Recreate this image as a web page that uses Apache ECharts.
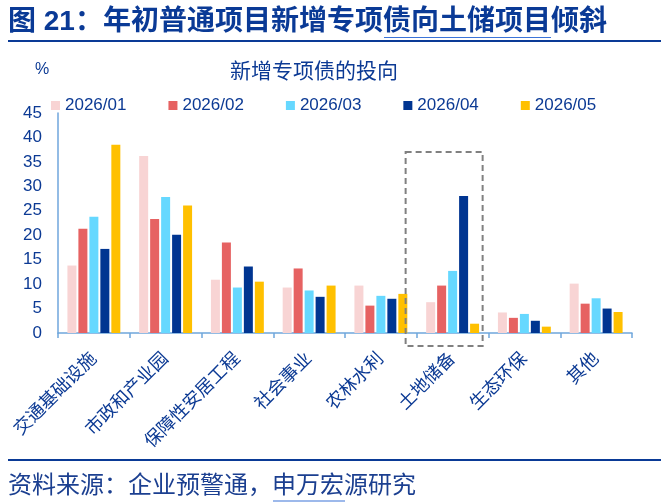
<!DOCTYPE html>
<html>
<head>
<meta charset="utf-8">
<title>新增专项债的投向</title>
<script src="https://cdn.jsdelivr.net/npm/echarts@6/dist/echarts.min.js"></script>
<style>
    html, body { margin: 0; padding: 0; background: #ffffff; }
    #main { width: 670px; height: 504px; }
</style>
</head>
<body>
<div id="main"></div>
<script>
// 类别
const categories = ['交通基础设施', '市政和产业园', '保障性安居工程', '社会事业', '农林水利', '土地储备', '生态环保', '其他'];
// 月份
const months = ['2026/01', '2026/02', '2026/03', '2026/04', '2026/05'];
// 各月占比 (%)
const jan = [13.8, 36.2, 10.9, 9.3, 9.7, 6.3, 4.2, 10.1];
const feb = [21.3, 23.3, 18.5, 13.2, 5.6, 9.7, 3.1, 6.0];
const mar = [23.8, 27.8, 9.3, 8.7, 7.6, 12.7, 3.9, 7.1];
const apr = [17.2, 20.1, 13.6, 7.4, 7.0, 28.0, 2.5, 5.0];
const may = [38.5, 26.1, 10.5, 9.7, 8.0, 1.9, 1.3, 4.3];
// y 轴刻度
const yMin = 0, yMax = 45, yStep = 5;

const colors = ['#F8D4D4', '#E66262', '#66D8FF', '#003591', '#FFC000'];
const textBlue = '#0C3A94';
const fontFamily = 'Liberation Sans, Noto Sans CJK SC, sans-serif';

let barChart = null; // chart 实例

function init() {
    barChart = echarts.init(document.getElementById('main'), null, { renderer: 'canvas' });
    setOption(barChart);
    drawBox(barChart);
}

function setOption(chart) {
    const seriesData = [jan, feb, mar, apr, may];
    const option = {
        backgroundColor: '#ffffff',
        animation: false,
        textStyle: { fontFamily },
        color: colors,
        legend: {
            left: 46,
            top: 92,
            itemWidth: 9,
            itemHeight: 9,
            itemGap: 42,
            icon: 'rect',
            textStyle: { color: textBlue, fontSize: 17, fontFamily },
            data: months
        },
        grid: { left: 58, right: 38, top: 113, bottom: 171 },
        xAxis: {
            type: 'category',
            data: categories,
            axisLine: { lineStyle: { color: '#6FA6DC', width: 1.5 } },
            axisTick: { show: true, length: 5, lineStyle: { color: '#6FA6DC', width: 1.5 } },
            axisLabel: {
                rotate: 45,
                interval: 0,
                margin: 23,
                color: textBlue,
                fontSize: 18,
                fontFamily
            }
        },
        yAxis: {
            type: 'value',
            min: yMin,
            max: yMax,
            interval: yStep,
            splitLine: { show: false },
            axisLine: { show: true, lineStyle: { color: '#6FA6DC', width: 1.5 } },
            axisTick: { show: false },
            axisLabel: { color: textBlue, fontSize: 17, margin: 16, fontFamily }
        },
        series: months.map((m, i) => ({
            name: m,
            type: 'bar',
            barWidth: 9,
            barGap: '22%',
            data: seriesData[i]
        })),
        graphic: [
            // 标题
            {
                type: 'text', left: 8, top: 8,
                style: { text: '图 21：年初普通项目新增专项债向土储项目倾斜', fill: '#0A3A96', font: 'bold 28px ' + fontFamily }
            },
            { type: 'line', shape: { x1: 384, y1: 37.5, x2: 551, y2: 37.5 }, style: { stroke: '#3C74D8', lineWidth: 1.2 } },
            { type: 'line', shape: { x1: 8, y1: 41, x2: 661, y2: 41 }, style: { stroke: '#0A3A96', lineWidth: 2.2 } },
            // 副标题、单位
            {
                type: 'text', left: 230, top: 62,
                style: { text: '新增专项债的投向', fill: textBlue, font: '21px ' + fontFamily }
            },
            {
                type: 'text', left: 35, top: 62,
                style: { text: '%', fill: textBlue, font: '16px ' + fontFamily }
            },
            // 资料来源
            { type: 'line', shape: { x1: 8, y1: 460, x2: 661, y2: 460 }, style: { stroke: '#0A3A96', lineWidth: 2.2 } },
            {
                type: 'text', left: 8, top: 474,
                style: { text: '资料来源：企业预警通，申万宏源研究', fill: '#1B3F90', font: '24px ' + fontFamily }
            },
            { type: 'line', shape: { x1: 273, y1: 501, x2: 345, y2: 501 }, style: { stroke: '#3C74D8', lineWidth: 1.2 } }
        ]
    };
    chart.setOption(option);
}

// 土地储备的虚线框
function drawBox(chart) {
    const cx = chart.convertToPixel({ xAxisIndex: 0 }, '土地储备');
    const yTop = chart.convertToPixel({ yAxisIndex: 0 }, 37);
    const yZero = chart.convertToPixel({ yAxisIndex: 0 }, 0);
    chart.setOption({
        graphic: [{
            id: 'box',
            type: 'rect',
            shape: { x: cx - 47, y: yTop, width: 77, height: yZero + 13 - yTop },
            style: { fill: 'none', stroke: '#808080', lineWidth: 2, lineDash: [6, 4] },
            z: 10
        }]
    });
}

init();
</script>
</body>
</html>
